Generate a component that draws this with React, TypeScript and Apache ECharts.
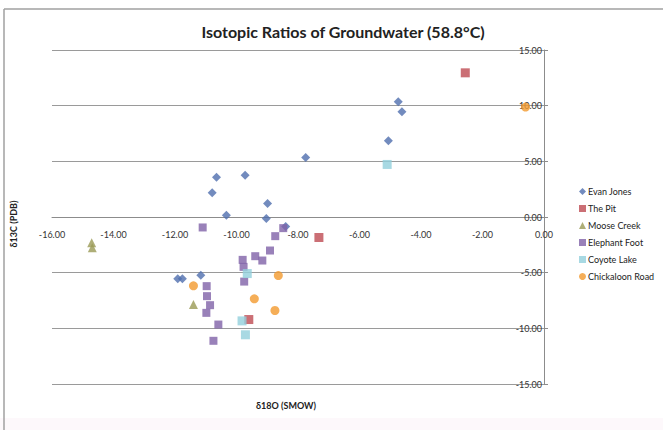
import React, { useEffect, useRef } from "react";
import * as echarts from "echarts";

const title = "Isotopic Ratios of Groundwater (58.8°C)";
const xAxisName = "δ18O (SMOW)";
const yAxisName = "δ13C (PDB)";

const seriesNames = ["Evan Jones", "The Pit", "Moose Creek", "Elephant Foot", "Coyote Lake", "Chickaloon Road"];

const evanJones: [number, number][] = [
  [-4.74, 10.35], [-4.62, 9.45], [-5.06, 6.85], [-7.75, 5.35], [-10.65, 3.58], [-9.72, 3.76],
  [-10.79, 2.17], [-8.99, 1.21], [-10.33, 0.16], [-9.03, -0.13], [-8.4, -0.85],
  [-11.91, -5.55], [-11.76, -5.55], [-11.16, -5.23],
];
const thePit: [number, number][] = [[-2.56, 12.95], [-7.32, -1.84], [-9.6, -9.21]];
const mooseCreek: [number, number][] = [[-14.71, -2.32], [-14.69, -2.77], [-11.4, -7.86]];
const elephantFoot: [number, number][] = [
  [-11.1, -0.94], [-8.48, -1.0], [-8.74, -1.72], [-8.91, -3.01], [-9.39, -3.52], [-9.16, -3.91],
  [-9.8, -3.85], [-9.77, -4.48], [-9.75, -5.8], [-10.97, -6.21], [-10.96, -7.11], [-10.86, -7.92],
  [-10.98, -8.61], [-10.59, -9.66], [-10.75, -11.12],
];
const coyoteLake: [number, number][] = [[-5.1, 4.72], [-9.65, -5.08], [-9.82, -9.33], [-9.71, -10.58]];
const chickaloonRoad: [number, number][] = [[-0.6, 9.87], [-11.4, -6.18], [-8.64, -5.26], [-9.42, -7.35], [-8.75, -8.4]];

const seriesData = [evanJones, thePit, mooseCreek, elephantFoot, coyoteLake, chickaloonRoad];
const colors = ["#4F6EAE", "#BE4B52", "#9A9A55", "#7F62A8", "#92D0DC", "#F29A2E"];
const symbols = ["diamond", "rect", "triangle", "rect", "rect", "circle"];
const symbolSizes = [9, 9, 9, 8, 9, 9];

const FONT = "Lato, 'Open Sans', sans-serif";

export default function App() {
  const ref = useRef<HTMLDivElement>(null);
  useEffect(() => {
    if (!ref.current) return;
    const chart = echarts.init(ref.current, null, { renderer: "svg" });
    chart.setOption({
      animation: false,
      backgroundColor: "#ffffff",
      title: {
        text: title,
        left: 338,
        top: 18,
        textAlign: "center",
        textStyle: { fontFamily: FONT, fontSize: 16, fontWeight: "bold", color: "#222" },
      },
      legend: {
        orient: "vertical",
        left: 574,
        top: 182,
        itemWidth: 7,
        itemHeight: 7,
        itemGap: 8,
        textStyle: { fontFamily: FONT, fontSize: 9, color: "#222", padding: [0, 0, 0, -3] },
        data: seriesNames,
      },
      grid: { left: 52, right: 119, top: 50, bottom: 46 },
      xAxis: {
        type: "value",
        min: -16,
        max: 0,
        interval: 2,
        offset: -167,
        axisLine: { show: true, onZero: false, lineStyle: { color: "#8c8c8c" } },
        axisTick: { show: false },
        splitLine: { show: false },
        axisLabel: {
          fontFamily: FONT,
          fontSize: 9,
          color: "#333",
          margin: 13,
          formatter: (v: number) => v.toFixed(2),
        },
      },
      yAxis: {
        type: "value",
        position: "right",
        min: -15,
        max: 15,
        interval: 5,
        axisLine: { show: true, onZero: false, lineStyle: { color: "#8c8c8c" } },
        axisTick: { show: true, length: 4, lineStyle: { color: "#8c8c8c" } },
        splitLine: { show: true, lineStyle: { color: "#9a9a9a", width: 1 } },
        axisLabel: {
          inside: true,
          fontFamily: FONT,
          fontSize: 9,
          color: "#333",
          margin: 2,
          formatter: (v: number) => v.toFixed(2),
        },
      },
      graphic: [
        { type: "rect", left: 0, top: 418, shape: { width: 663, height: 12 }, style: { fill: "#fdf8fb" }, silent: true },
        { type: "line", shape: { x1: 4, y1: 9, x2: 663, y2: 9 }, style: { stroke: "#a0a0a0", lineWidth: 1.5 } },
        { type: "line", shape: { x1: 4, y1: 9, x2: 4, y2: 430 }, style: { stroke: "#a0a0a0", lineWidth: 1.5 } },
        {
          type: "text",
          x: 13,
          y: 224,
          rotation: Math.PI / 2,
          style: { text: yAxisName, fontFamily: FONT, fontSize: 9, fontWeight: "bold", fill: "#222", align: "center", verticalAlign: "middle" },
        },
        {
          type: "text",
          x: 286,
          y: 405,
          style: { text: xAxisName, fontFamily: FONT, fontSize: 9, fontWeight: "bold", fill: "#222", align: "center", verticalAlign: "middle" },
        },
      ],
      series: seriesNames.map((name, i) => ({
        name,
        type: "scatter",
        data: seriesData[i],
        symbol: symbols[i],
        symbolSize: symbolSizes[i],
        itemStyle: { color: colors[i] },
      })),
    });
    return () => chart.dispose();
  }, []);
  return <div ref={ref} style={{ width: 663, height: 430, position: "absolute", left: 0, top: 0 }} />;
}
